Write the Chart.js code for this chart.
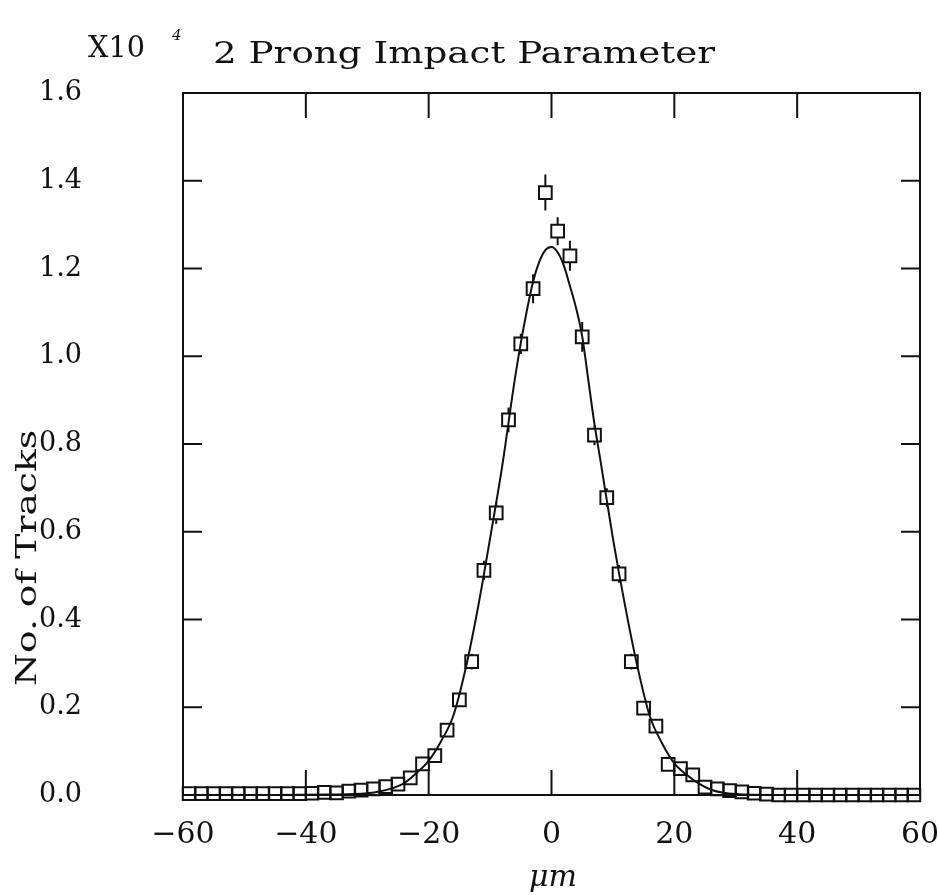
<!DOCTYPE html>
<html>
<head>
<meta charset="utf-8">
<title>2 Prong Impact Parameter</title>
<script src="https://cdn.jsdelivr.net/npm/chart.js@4.4.1/dist/chart.umd.min.js"></script>
<style>
  html, body { margin: 0; padding: 0; background: #fff; }
</style>
</head>
<body>
<canvas id="impact-chart" width="939" height="895"></canvas>
<script>
// bin centres (micrometres) and counts in units of 10^4 tracks
const binCentres = [-59, -57, -55, -53, -51, -49, -47, -45, -43, -41,
                    -39, -37, -35, -33, -31, -29, -27, -25, -23, -21,
                    -19, -17, -15, -13, -11, -9, -7, -5, -3, -1,
                    1, 3, 5, 7, 9, 11, 13, 15, 17, 19,
                    21, 23, 25, 27, 29, 31, 33, 35, 37, 39,
                    41, 43, 45, 47, 49, 51, 53, 55, 57, 59];
const tracks = [0.003, 0.003, 0.003, 0.003, 0.003, 0.003, 0.003, 0.003, 0.003, 0.003,
                0.004, 0.006, 0.005, 0.009, 0.011, 0.014, 0.019, 0.025, 0.039, 0.071,
                0.090, 0.148, 0.217, 0.304, 0.512, 0.643, 0.855, 1.028, 1.154, 1.373,
                1.285, 1.229, 1.044, 0.820, 0.678, 0.504, 0.304, 0.198, 0.157, 0.070,
                0.060, 0.046, 0.018, 0.014, 0.010, 0.007, 0.004, 0.002, 0.000, 0.000,
                0.000, 0.000, 0.000, 0.000, 0.000, 0.000, 0.000, 0.000, 0.000, 0.000];
const trackErrors = [0.002, 0.002, 0.002, 0.002, 0.002, 0.002, 0.002, 0.002, 0.002, 0.002,
                     0.002, 0.002, 0.002, 0.003, 0.003, 0.003, 0.004, 0.004, 0.005, 0.006,
                     0.008, 0.010, 0.014, 0.018, 0.022, 0.025, 0.028, 0.023, 0.033, 0.041,
                     0.032, 0.034, 0.034, 0.023, 0.021, 0.020, 0.018, 0.014, 0.010, 0.008,
                     0.006, 0.005, 0.004, 0.003, 0.003, 0.002, 0.002, 0.002, 0.002, 0.002,
                     0.002, 0.002, 0.002, 0.002, 0.002, 0.002, 0.002, 0.002, 0.002, 0.002];

// fitted curve
const fitX = [-60, -45, -36, -32, -30, -28, -26, -24, -22, -20, -18, -16, -14, -12, -10,
              -8, -6, -5, -4, -3, -2, -1, 0, 1, 2, 3, 4, 5, 6, 7, 8,
              10, 12, 14, 16, 18, 20, 22, 24, 26, 28, 30, 36, 45, 60];
const fitY = [0.000, 0.000, 0.001, 0.002, 0.004, 0.008, 0.015, 0.027, 0.050, 0.078, 0.122, 0.180, 0.287, 0.425, 0.585,
              0.752, 0.945, 1.030, 1.105, 1.170, 1.215, 1.242, 1.249, 1.237, 1.207, 1.160, 1.110, 1.045, 0.945, 0.845, 0.760,
              0.585, 0.430, 0.292, 0.180, 0.118, 0.072, 0.046, 0.026, 0.012, 0.005, 0.002, 0.000, 0.000, 0.000];

const xTicks = [-60, -40, -20, 0, 20, 40, 60];
const yTicks = [0.0, 0.2, 0.4, 0.6, 0.8, 1.0, 1.2, 1.4, 1.6];

const serif = '"DejaVu Serif", "Liberation Serif", serif';
const ink = '#111';

// the plotter font is wide: stretch text horizontally to a given width
function wideText(ctx, text, x, y, width) {
  const w = ctx.measureText(text).width;
  ctx.save();
  ctx.translate(x, y);
  ctx.scale(width / w, 1);
  ctx.textAlign = 'left';
  ctx.fillText(text, 0, 0);
  ctx.restore();
}

const framePlugin = {
  id: 'frame',
  afterDraw(chart) {
    const ctx = chart.ctx;
    const a = chart.chartArea;
    const xs = chart.scales.x, ys = chart.scales.y;
    ctx.save();
    ctx.strokeStyle = ink;
    ctx.lineWidth = 2;
    ctx.strokeRect(a.left, a.top, a.right - a.left, a.bottom - a.top);

    // inward tick marks on all four sides
    ctx.beginPath();
    xTicks.forEach(v => {
      const px = xs.getPixelForValue(v);
      ctx.moveTo(px, a.bottom); ctx.lineTo(px, a.bottom - 25);
      ctx.moveTo(px, a.top); ctx.lineTo(px, a.top + 25);
    });
    yTicks.forEach(v => {
      const py = ys.getPixelForValue(v);
      ctx.moveTo(a.left, py); ctx.lineTo(a.left + 19, py);
      ctx.moveTo(a.right, py); ctx.lineTo(a.right - 19, py);
    });
    ctx.stroke();

    // texts
    ctx.fillStyle = ink;
    ctx.textBaseline = 'alphabetic';
    ctx.font = '29px ' + serif;
    wideText(ctx, 'X10', 88, 57, 57);
    wideText(ctx, '2 Prong Impact Parameter', 213, 63, 502);
    ctx.font = 'italic 15px ' + serif;
    ctx.fillText('4', 172, 40);

    ctx.save();
    ctx.translate(36, 686);
    ctx.rotate(-Math.PI / 2);
    ctx.font = '27px ' + serif;
    wideText(ctx, 'No. of Tracks', 0, 0, 256);
    ctx.restore();

    ctx.font = 'italic 30px ' + serif;
    wideText(ctx, '\u03bcm', 529, 886, 48);
    ctx.restore();
  }
};

// error bars: drawn outside the square markers only
const errorBarPlugin = {
  id: 'errorBars',
  afterDatasetsDraw(chart) {
    const ctx = chart.ctx;
    const xs = chart.scales.x, ys = chart.scales.y;
    const half = 6.5;
    ctx.save();
    ctx.strokeStyle = ink;
    ctx.lineWidth = 2;
    ctx.beginPath();
    binCentres.forEach((x, i) => {
      const px = xs.getPixelForValue(x);
      const py = ys.getPixelForValue(tracks[i]);
      const top = ys.getPixelForValue(tracks[i] + trackErrors[i]);
      const bottom = ys.getPixelForValue(tracks[i] - trackErrors[i]);
      if (py - top > half) { ctx.moveTo(px, top); ctx.lineTo(px, py - half); }
      if (bottom - py > half) { ctx.moveTo(px, py + half); ctx.lineTo(px, bottom); }
    });
    ctx.stroke();
    ctx.restore();
  }
};

let ctx = document.getElementById('impact-chart').getContext('2d');
let chart = new Chart(ctx, {
  type: 'scatter',
  data: {
    datasets: [{
      label: 'Tracks',
      data: binCentres.map((x, i) => ({ x: x, y: tracks[i] })),
      pointStyle: 'rect',
      pointRadius: 9,
      pointBorderWidth: 2,
      borderColor: ink,
      backgroundColor: 'rgba(0,0,0,0)',
      showLine: false,
      clip: false
    }, {
      label: 'Fit',
      data: fitX.map((x, i) => ({ x: x, y: fitY[i] })),
      showLine: true,
      pointRadius: 0,
      borderColor: ink,
      borderWidth: 2,
      cubicInterpolationMode: 'monotone',
      fill: false
    }]
  },
  options: {
    responsive: false,
    animation: false,
    layout: { padding: { top: 93, right: 19, left: 0, bottom: 0 } },
    plugins: {
      legend: { display: false },
      tooltip: { enabled: false },
      title: { display: false }
    },
    scales: {
      x: {
        type: 'linear',
        min: -60,
        max: 60,
        grid: { display: false, drawTicks: false },
        border: { display: false },
        afterBuildTicks: s => { s.ticks = xTicks.map(v => ({ value: v })); },
        afterFit: s => { s.height = 100; s.paddingLeft = 0; s.paddingRight = 0; },
        ticks: {
          padding: 22,
          color: ink,
          font: { family: serif, size: 30 },
          maxRotation: 0,
          callback: v => v < 0 ? '\u2212' + Math.abs(v) : String(v)
        }
      },
      y: {
        type: 'linear',
        min: 0,
        max: 1.6,
        grid: { display: false, drawTicks: false },
        border: { display: false },
        afterBuildTicks: s => { s.ticks = yTicks.map(v => ({ value: v })); },
        afterFit: s => { s.width = 183; s.paddingTop = 0; s.paddingBottom = 0; },
        ticks: {
          padding: 101,
          color: ink,
          font: { family: serif, size: 27 },
          callback: v => Number(v).toFixed(1)
        }
      }
    }
  },
  plugins: [errorBarPlugin, framePlugin]
});
</script>
</body>
</html>
